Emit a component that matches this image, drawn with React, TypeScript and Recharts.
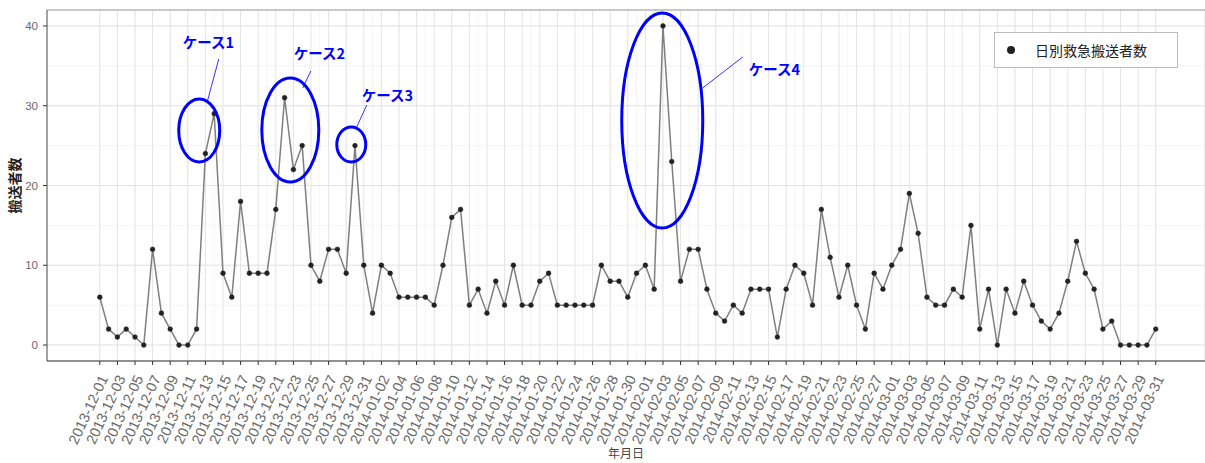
import React from 'react';
import { LineChart, Line, XAxis, YAxis, CartesianGrid, ReferenceDot, ReferenceLine } from 'recharts';

const months = [
  { y: 2013, m: 12, days: 31 },
  { y: 2014, m: 1, days: 31 },
  { y: 2014, m: 2, days: 28 },
  { y: 2014, m: 3, days: 31 },
];

const decValues = [6, 2, 1, 2, 1, 0, 12, 4, 2, 0, 0, 2, 24, 29, 9, 6, 18, 9, 9, 9, 17, 31, 22, 25, 10, 8, 12, 12, 9, 25, 10];
const janValues = [4, 10, 9, 6, 6, 6, 6, 5, 10, 16, 17, 5, 7, 4, 8, 5, 10, 5, 5, 8, 9, 5, 5, 5, 5, 5, 10, 8, 8, 6, 9];
const febValues = [10, 7, 40, 23, 8, 12, 12, 7, 4, 3, 5, 4, 7, 7, 7, 1, 7, 10, 9, 5, 17, 11, 6, 10, 5, 2, 9, 7];
const marValues = [10, 12, 19, 14, 6, 5, 5, 7, 6, 15, 2, 7, 0, 7, 4, 8, 5, 3, 2, 4, 8, 13, 9, 7, 2, 3, 0, 0, 0, 0, 2];

const pad = (n: number) => (n < 10 ? '0' + n : '' + n);
const dates: string[] = [];
months.forEach((mo) => {
  for (let d = 1; d <= mo.days; d++) dates.push(`${mo.y}-${pad(mo.m)}-${pad(d)}`);
});
const values = [...decValues, ...janValues, ...febValues, ...marValues];
const data = dates.map((date, i) => ({ i, date, count: values[i] }));

const xDomain = [-6, 125.6];
const yDomain = [-2, 42];
const majorXTicks = dates.map((_, i) => i).filter((i) => i % 2 === 0);
const minorXTicks = dates.map((_, i) => i);
const majorYTicks = [0, 10, 20, 30, 40];
const minorYTicks = [0, 5, 10, 15, 20, 25, 30, 35, 40];

const seriesName = '日別救急搬送者数';
const yTitle = '搬送者数';
const xTitle = '年月日';

// annotations (in data coordinates)
const ellipses = [
  { x: 11.3, y: 26.9, rx: 20.5, ry: 31.5 },
  { x: 21.65, y: 26.96, rx: 28.5, ry: 52 },
  { x: 28.58, y: 25.14, rx: 14.5, ry: 17.5 },
  { x: 63.92, y: 28.15, rx: 40.5, ry: 107.5 },
];
const caseLabels = [
  { x: 9.43, y: 37.87, text: 'ケース1' },
  { x: 22.05, y: 36.49, text: 'ケース2' },
  { x: 29.77, y: 31.22, text: 'ケース3' },
  { x: 73.75, y: 34.48, text: 'ケース4' },
];
const leaders = [
  [{ x: 13.52, y: 35.86 }, { x: 12.27, y: 30.72 }],
  [{ x: 23.98, y: 34.36 }, { x: 23.07, y: 32.23 }],
  [{ x: 30.34, y: 30.09 }, { x: 29.2, y: 27.34 }],
  [{ x: 73.07, y: 36.11 }, { x: 68.52, y: 32.23 }],
];

const BLUE = '#0000ff';
const JP = '"Noto Sans CJK JP", "Noto Sans", sans-serif';
const LAT = '"Liberation Sans", Arial, sans-serif';

const XTick = (props: any) => {
  const { x, y, payload } = props;
  const label = dates[payload.value] ?? '';
  const ax = x + 4;
  const ay = y + 9;
  return (
    <text
      x={ax}
      y={ay}
      transform={`rotate(-65 ${ax} ${ay})`}
      textAnchor="end"
      dy="0.35em"
      fontSize={14.5}
      fill="#6a6a6a"
      fontFamily={LAT}
    >
      {label}
    </text>
  );
};

export default function App() {
  return (
    <div style={{ position: 'absolute', left: 0, top: 0, width: 1205, height: 463, background: '#fff' }}>
      <LineChart width={1205} height={463} data={data} margin={{ top: 10, right: 0, bottom: 0, left: 0 }}>
        <XAxis xAxisId="minor" dataKey="i" type="number" domain={xDomain} ticks={minorXTicks} hide allowDataOverflow />
        <YAxis yAxisId="minor" type="number" domain={yDomain} ticks={minorYTicks} hide allowDataOverflow />
        <CartesianGrid xAxisId="minor" yAxisId="minor" stroke="#f1f1f1" strokeWidth={0.8} />
        <CartesianGrid stroke="#e4e4e4" strokeWidth={1} />
        <XAxis
          dataKey="i"
          type="number"
          domain={xDomain}
          ticks={majorXTicks}
          interval={0}
          allowDataOverflow
          height={102}
          tick={<XTick />}
          tickSize={4}
          tickLine={{ stroke: '#333' }}
          axisLine={{ stroke: '#333', strokeWidth: 1.2 }}
          label={(p: any) => {
            const vb = p.viewBox;
            return (
              <text x={vb.x + vb.width / 2} y={vb.y + 97} textAnchor="middle" fontSize={12} fill="#444" fontFamily={JP}>
                {xTitle}
              </text>
            );
          }}
        />
        <YAxis
          type="number"
          domain={yDomain}
          ticks={majorYTicks}
          allowDataOverflow
          width={47}
          tickSize={4}
          tickMargin={5}
          tick={{ fontSize: 11.5, fill: '#6a6a6a', fontFamily: LAT }}
          tickLine={{ stroke: '#333' }}
          axisLine={{ stroke: '#555', strokeWidth: 1 }}
          label={(p: any) => {
            const vb = p.viewBox;
            const cx = 15;
            const cy = vb.y + vb.height / 2;
            return (
              <text x={cx} y={cy} transform={`rotate(-90 ${cx} ${cy})`} textAnchor="middle" dy="0.35em" fontSize={14} fill="#222" fontWeight="bold" fontFamily={JP}>
                {yTitle}
              </text>
            );
          }}
        />
        <ReferenceLine y={42} stroke="#bbb" strokeWidth={1.5} ifOverflow="visible" />
        <Line
          dataKey="count"
          name={seriesName}
          stroke="#7f7f7f"
          strokeWidth={1.5}
          dot={{ r: 2.4, fill: '#222', stroke: '#222', strokeWidth: 0.5 }}
          activeDot={false}
          isAnimationActive={false}
        />
        {ellipses.map((e, k) => (
          <ReferenceDot
            key={'e' + k}
            x={e.x}
            y={e.y}
            ifOverflow="visible"
            shape={(p: any) => (
              <ellipse cx={p.cx} cy={p.cy} rx={e.rx} ry={e.ry} fill="none" stroke={BLUE} strokeWidth={3} />
            )}
          />
        ))}
        {leaders.map((seg, k) => (
          <ReferenceLine key={'l' + k} segment={seg} stroke={BLUE} strokeWidth={0.8} ifOverflow="visible" />
        ))}
        {caseLabels.map((c, k) => (
          <ReferenceDot
            key={'c' + k}
            x={c.x}
            y={c.y}
            ifOverflow="visible"
            shape={(p: any) => (
              <text x={p.cx} y={p.cy} dy="0.36em" textAnchor="start" fontSize={14.5} fontWeight="bold" fill={BLUE} fontFamily={JP}>
                {c.text}
              </text>
            )}
          />
        ))}
      </LineChart>
      <div
        style={{
          position: 'absolute',
          left: 994,
          top: 32,
          width: 184,
          height: 36,
          boxSizing: 'border-box',
          border: '1px solid #bbb',
          background: '#fff',
        }}
      >
        <span style={{ position: 'absolute', left: 12, top: 13, width: 8, height: 8, borderRadius: 4, background: '#222' }} />
        <span style={{ position: 'absolute', left: 40, top: 8, fontSize: 14, lineHeight: '18px', color: '#222', fontFamily: JP }}>
          {seriesName}
        </span>
      </div>
    </div>
  );
}
